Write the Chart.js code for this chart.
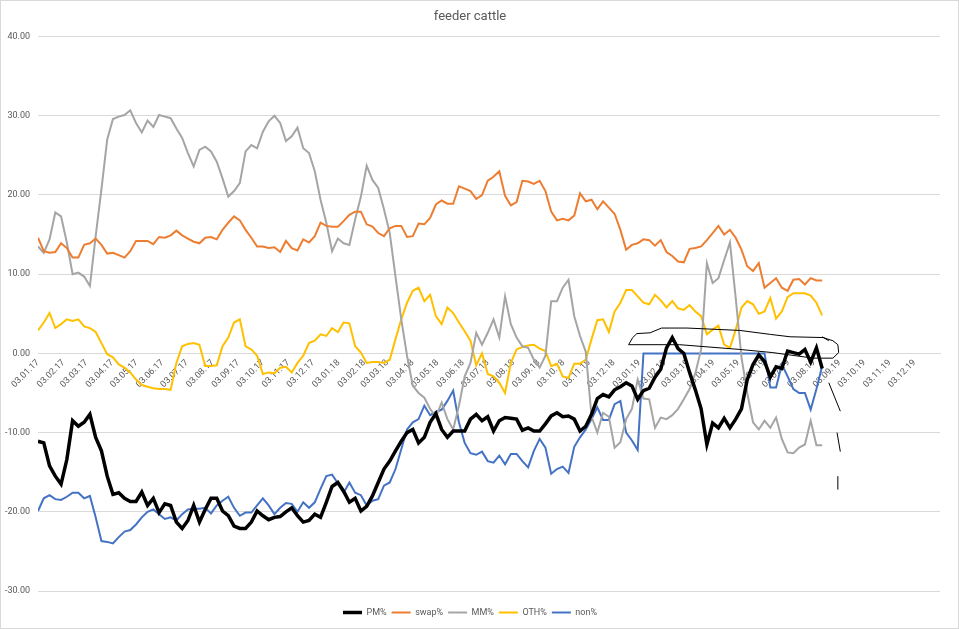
<!DOCTYPE html>
<html>
<head>
<meta charset="utf-8">
<title>feeder cattle</title>
<script src="https://cdn.jsdelivr.net/npm/chart.js@4.4.0/dist/chart.umd.min.js"></script>
<style>
  html, body { margin: 0; padding: 0; background: #fff; }
</style>
</head>
<body>
<canvas id="chart" width="959" height="629"></canvas>
<script>
// weekly COT report dates, starting 03.01.17 (x = days since start)
const startDate = Date.UTC(2017, 0, 3);
const DAY = 86400000;

const pm = [
  -11.1, -11.3, -14.2, -15.5, -16.5, -13.4, -8.5, -9.2, -8.7, -7.7,
  -10.6, -12.3, -15.5, -17.8, -17.6, -18.3, -18.7, -18.7, -17.5, -19.2,
  -18.3, -20.1, -19.0, -19.2, -21.3, -22.1, -21.1, -19.2, -21.3, -19.7,
  -18.3, -18.3, -19.9, -20.5, -21.8, -22.1, -22.1, -21.3, -19.9, -20.5,
  -21.0, -20.7, -20.6, -20.0, -19.5, -20.5, -21.3, -21.1, -20.3, -20.7,
  -18.8, -16.8, -16.3, -17.4, -18.8, -18.3, -19.9, -19.3, -18.0, -16.3,
  -14.6, -13.6, -12.3, -11.1, -10.0, -9.6, -11.3, -10.6, -8.7, -7.6,
  -9.6, -10.6, -9.8, -9.8, -9.8, -8.3, -7.7, -8.5, -8.0, -9.8,
  -8.5, -8.1, -8.2, -8.3, -9.7, -9.4, -9.8, -9.8, -8.9, -7.9,
  -7.5, -8.0, -7.9, -8.3, -9.8, -9.2, -7.7, -5.7, -5.2, -5.5,
  -4.6, -4.2, -3.7, -4.1, -5.8, -4.7, -4.4, -3.0, -2.0, 0.7,
  2.0, 0.6, 0.0, -2.4, -4.6, -7.0, -11.5, -8.8, -9.4, -8.2,
  -9.4, -8.3, -7.0, -3.3, -1.4, -0.2, -1.0, -3.0, -1.7, -1.9,
  0.3, 0.1, -0.1, 0.5, -1.1, 0.7, -1.9
];
const swap = [
  14.6, 12.9, 12.7, 12.8, 13.9, 13.3, 12.1, 12.1, 13.7, 13.9,
  14.5, 13.7, 12.6, 12.7, 12.4, 12.1, 12.9, 14.2, 14.2, 14.2,
  13.8, 14.7, 14.6, 14.9, 15.5, 14.9, 14.5, 14.1, 13.9, 14.6,
  14.7, 14.4, 15.6, 16.5, 17.3, 16.8, 15.6, 14.6, 13.5, 13.5,
  13.3, 13.4, 12.8, 14.2, 13.3, 13.0, 14.4, 14.0, 14.8, 16.5,
  16.1, 16.0, 16.0, 16.7, 17.5, 17.9, 17.9, 16.3, 16.0, 15.2,
  14.8, 15.8, 16.1, 16.1, 14.7, 14.8, 16.4, 16.3, 17.1, 18.8,
  19.3, 18.9, 18.9, 21.1, 20.8, 20.5, 19.5, 20.0, 21.8, 22.3,
  23.0, 19.9, 18.7, 19.1, 21.8, 21.7, 21.4, 21.8, 20.5, 17.9,
  16.8, 17.0, 16.8, 17.4, 20.2, 19.2, 19.4, 18.2, 19.2, 18.4,
  17.6, 15.6, 13.1, 13.7, 13.9, 14.4, 14.3, 13.6, 14.3, 12.8,
  12.3, 11.6, 11.5, 13.2, 13.3, 13.5, 14.3, 15.2, 16.1, 15.0,
  15.6, 14.6, 13.1, 11.0, 10.4, 11.4, 8.3, 8.9, 9.5, 8.3,
  7.9, 9.3, 9.4, 8.7, 9.5, 9.2, 9.2
];
const mm = [
  13.5, 12.7, 14.4, 17.8, 17.3, 14.0, 10.0, 10.2, 9.7, 8.5,
  14.8, 20.7, 27.0, 29.6, 29.9, 30.1, 30.7, 29.1, 27.9, 29.4,
  28.6, 30.1, 29.9, 29.7, 28.4, 27.2, 25.3, 23.6, 25.7, 26.1,
  25.5, 24.2, 22.1, 19.8, 20.5, 21.5, 25.5, 26.3, 25.9, 28.0,
  29.3, 30.0, 29.1, 26.8, 27.4, 28.5, 25.9, 25.3, 23.0, 19.4,
  16.5, 12.9, 14.5, 13.9, 13.7, 16.9, 19.8, 23.7, 21.9, 20.9,
  18.2, 15.2, 9.7, 4.3, -0.3, -4.1, -5.0, -5.6, -7.0, -8.0,
  -6.2, -8.3, -9.6, -6.6, -2.9, -1.2, 2.6, 1.1, 2.6, 4.3,
  2.0, 7.2, 3.7, 2.0, 0.9, 0.7, -0.8, -1.8, -0.3, 6.6,
  6.6, 8.3, 9.3, 4.7, 2.2, 0.2, -8.0, -10.0, -7.5, -8.0,
  -11.9, -11.2, -8.3, -7.0, -3.3, -5.7, -5.8, -9.4, -8.1, -8.3,
  -7.8, -7.0, -5.8, -4.5, -2.5, 0.5, 11.4, 8.9, 9.5, 11.8,
  14.0, 7.0, -0.5, -5.0, -8.7, -9.6, -8.5, -9.4, -8.1, -10.8,
  -12.5, -12.6, -11.9, -11.5, -8.5, -11.6, -11.6
];
const oth = [
  2.9, 3.9, 5.1, 3.2, 3.7, 4.3, 4.1, 4.3, 3.4, 3.2,
  2.7, 1.3, -0.1, -0.5, -1.4, -1.8, -2.4, -3.3, -4.0, -4.2,
  -4.4, -4.5, -4.5, -4.6, -1.2, 0.9, 1.2, 1.3, 1.1, -1.6,
  -1.6, -1.5, 0.9, 2.0, 3.9, 4.3, 0.9, 0.5, -0.3, -2.6,
  -2.4, -2.5, -1.8, -1.7, -2.4, -1.2, -0.3, 1.3, 1.6, 2.4,
  2.2, 3.2, 2.7, 3.9, 3.8, 0.9, 0.1, -1.2, -1.1, -1.1,
  -1.2, -0.8, 1.8, 4.3, 6.4, 7.9, 8.3, 6.6, 7.4, 4.7,
  3.7, 5.8, 5.1, 3.9, 2.8, 1.6, -1.5, 0.0, -2.6, -2.9,
  -3.7, -5.0, -1.2, 0.5, 0.8, 1.0, 1.1, 0.6, 0.3, -1.6,
  -1.3, -2.9, -3.1, -1.3, -1.3, -0.8, 1.8, 4.2, 4.3, 2.7,
  5.3, 6.4, 8.0, 8.0, 7.2, 6.4, 6.2, 7.4, 6.7, 5.8,
  6.6, 5.7, 5.5, 6.1, 5.3, 4.7, 2.4, 3.0, 3.5, 1.1,
  0.7, 3.0, 5.8, 6.6, 6.2, 5.0, 5.3, 7.0, 4.4, 5.3,
  7.1, 7.6, 7.6, 7.6, 7.3, 6.4, 4.8
];
const non = [
  -19.9, -18.3, -17.9, -18.4, -18.5, -18.1, -17.6, -17.6, -18.3, -18.0,
  -20.7, -23.7, -23.8, -24.0, -23.2, -22.5, -22.3, -21.6, -20.7, -20.0,
  -19.7, -20.3, -20.9, -20.7, -21.1, -20.3, -19.7, -19.6, -19.6, -19.5,
  -20.2, -19.2, -18.6, -18.1, -19.5, -20.5, -20.1, -20.1, -19.2, -18.3,
  -19.2, -20.3, -19.5, -18.9, -19.0, -20.0, -18.8, -19.5, -18.8, -17.1,
  -15.5, -15.3, -16.4, -17.6, -16.3, -17.6, -17.9, -19.2, -18.6, -18.4,
  -16.7, -16.3, -14.6, -12.1, -9.6, -8.7, -8.3, -6.6, -7.8, -7.4,
  -7.1, -6.0, -4.7, -8.7, -11.3, -12.6, -12.8, -12.4, -13.6, -13.8,
  -12.9, -14.0, -12.7, -12.7, -13.6, -14.4, -12.3, -10.8, -11.9, -15.2,
  -14.6, -14.3, -15.1, -11.8, -10.6, -9.6, -8.3, -6.8, -8.4, -8.4,
  -6.4, -6.0, -10.0, -11.0, -12.2, 0, 0, 0, 0, 0,
  0, 0, 0, 0, 0, 0, 0, 0, 0, 0,
  0, 0, 0, 0, 0, 0, 0, -4.3, -4.3, -1.4,
  -2.9, -4.5, -5.0, -5.0, -7.1, -4.5, -1.6
];

// report dates as day offsets from 03.01.17
const reportDays = pm.map((_, i) => i * 7);

// axis: one label on the 3rd of every month
const monthTicks = [];
for (let y = 2017; y <= 2019; y++) {
  for (let m = 0; m < 12; m++) monthTicks.push((Date.UTC(y, m, 3) - startDate) / DAY);
}
const axisEnd = (Date.UTC(2020, 0, 3) - startDate) / DAY;

const fmtDate = (days) => {
  const d = new Date(startDate + days * DAY);
  const p = (n) => String(n).padStart(2, "0");
  return p(d.getUTCDate()) + "." + p(d.getUTCMonth() + 1) + "." + String(d.getUTCFullYear()).slice(2);
};

// hand drawn marks on the picture, in (day, value) units
const scribbles = [
  [[717, 1.1], [722, 2.0], [727, 2.5], [743, 2.6], [757, 3.2], [788, 3.2], [852, 2.9],
   [889, 2.4], [913, 2.1], [953, 2.0], [965, 1.6], [971, 1.1], [972, 0.1], [965, -0.6],
   [941, -0.6], [892, 0.1], [852, 0.5], [779, 1.1], [717, 1.1]],
  [[952, 2.1], [960, 1.6]],
  [[960, -3.7], [967, -5.5], [974, -7.3]],
  [[970, -10.0], [974, -12.4]],
  [[971, -15.5], [971, -17.2]]
];

const mkSet = (label, values, color, width) => ({
  label: label,
  data: values.map((v, i) => ({ x: reportDays[i], y: v })),
  borderColor: color,
  backgroundColor: color,
  borderWidth: width,
  pointRadius: 0,
  tension: 0
});

const framePlugin = {
  id: "frame",
  beforeDraw(chart) {
    const c = chart.ctx;
    c.save();
    c.fillStyle = "#fff";
    c.fillRect(0, 0, chart.width, chart.height);
    c.strokeStyle = "#d9d9d9";
    c.lineWidth = 1;
    c.strokeRect(0.5, 0.5, chart.width - 1, chart.height - 1);
    c.restore();
  }
};

const scribblePlugin = {
  id: "scribble",
  afterDatasetsDraw(chart) {
    const c = chart.ctx;
    const xs = chart.scales.x, ys = chart.scales.y;
    c.save();
    c.strokeStyle = "#000";
    c.lineWidth = 1;
    scribbles.forEach((path) => {
      c.beginPath();
      path.forEach((p, k) => {
        const px = xs.getPixelForValue(p[0]), py = ys.getPixelForValue(p[1]);
        if (k === 0) c.moveTo(px, py); else c.lineTo(px, py);
      });
      c.stroke();
    });
    c.restore();
  }
};

const txt = "#595959";

new Chart(document.getElementById("chart"), {
  type: "line",
  plugins: [framePlugin, scribblePlugin],
  data: {
    datasets: [
      mkSet("PM%", pm, "#000000", 3.5),
      mkSet("swap%", swap, "#ED7D31", 2),
      mkSet("MM%", mm, "#A5A5A5", 2),
      mkSet("OTH%", oth, "#FFC000", 2),
      mkSet("non%", non, "#4472C4", 2)
    ]
  },
  options: {
    responsive: false,
    animation: false,
    layout: { padding: { left: 0, right: 19, top: 0, bottom: 2 } },
    plugins: {
      title: {
        display: true,
        text: "feeder cattle",
        color: txt,
        font: { family: "Roboto", size: 13, weight: "normal" },
        padding: { top: 9, bottom: 12 }
      },
      legend: {
        position: "bottom",
        title: { display: true, text: "", font: { size: 10 }, padding: 0 },
        labels: {
          usePointStyle: true,
          pointStyle: "line",
          pointStyleWidth: 19,
          color: txt,
          font: { family: "Roboto", size: 9 },
          padding: 5
        }
      },
      tooltip: { enabled: false }
    },
    scales: {
      x: {
        type: "linear",
        position: { y: 0 },
        min: 0,
        max: axisEnd,
        afterBuildTicks: (s) => { s.ticks = monthTicks.map((v) => ({ value: v })); },
        grid: { display: false, drawTicks: false },
        border: { color: "#d9d9d9" },
        ticks: {
          autoSkip: false,
          minRotation: 45,
          maxRotation: 45,
          padding: 4,
          color: txt,
          font: { family: "Roboto", size: 9 },
          callback: (v) => fmtDate(v)
        }
      },
      y: {
        min: -30,
        max: 40,
        afterFit: (s) => { s.width = 38; },
        grid: { color: "#d9d9d9", drawTicks: false },
        border: { display: false },
        ticks: {
          stepSize: 10,
          padding: 8,
          color: txt,
          font: { family: "Roboto", size: 9 },
          callback: (v) => v.toFixed(2)
        }
      }
    }
  }
});
</script>
</body>
</html>
